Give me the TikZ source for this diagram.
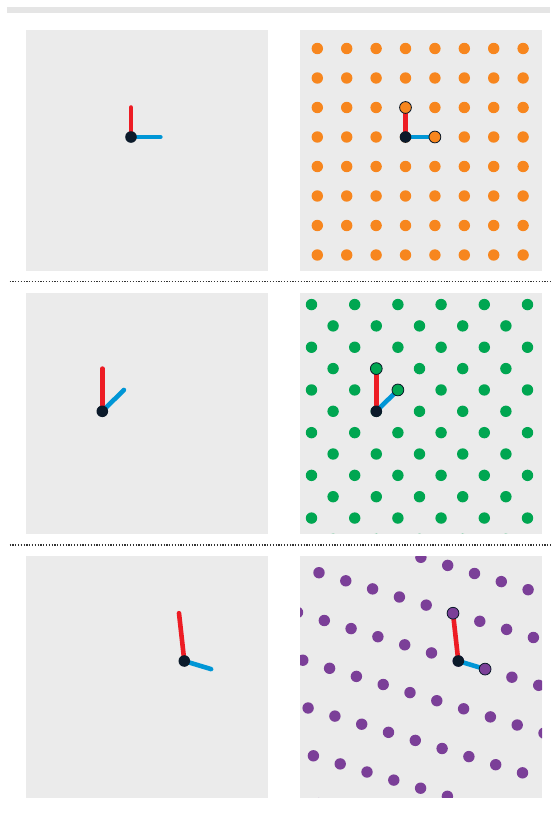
\documentclass[tikz,border=0pt]{standalone}
\definecolor{panelgray}{HTML}{EBEBEB}
\definecolor{bargray}{HTML}{E5E5E5}
\definecolor{vred}{HTML}{ED1C24}
\definecolor{vblue}{HTML}{0096D6}
\definecolor{odark}{HTML}{0B1A2A}
\definecolor{lorange}{HTML}{F7861E}
\definecolor{lgreen}{HTML}{00A651}
\definecolor{lpurple}{HTML}{7B3F98}
\definecolor{sepdark}{HTML}{333333}
\newcommand\drawlattice[7]{%
  \foreach \ii in {-7,...,7}{%
    \foreach \jj in {-12,...,12}{%
      \fill[#1] ({#2+\ii*(#4)+\jj*(#6)},{#3+\ii*(#5)+\jj*(#7)}) circle (5.7pt);
    }%
  }%
}
\begin{document}
\begin{tikzpicture}[x=1pt,y=-1pt,
  panelbox/.style={fill=panelgray},
  redvec/.style={draw=vred,line width=4.6pt,line cap=round},
  bluevec/.style={draw=vblue,line width=4.6pt,line cap=round},
  origindot/.style={circle,fill=odark,inner sep=0pt,minimum size=11.6pt},
  tipdot/.style={circle,fill=#1,draw=odark,line width=0.8pt,inner sep=0pt,minimum size=11.8pt},
  sepline/.style={draw=sepdark,line width=1.3pt,dash pattern=on 1.3pt off 1.5pt}]
\useasboundingbox (0,0) rectangle (550,815);
% top bar
\fill[bargray] (7.4,7.4) rectangle (550,12.8);
% separators
\coordinate (s1a) at (9.5,281.5); \coordinate (s1b) at (550,281.5);
\coordinate (s2a) at (9.5,545); \coordinate (s2b) at (550,545);
\draw[sepline] (s1a) -- (s1b);
\draw[sepline] (s2a) -- (s2b);
% panels
\fill[panelbox] (26,29.5) rectangle (268,271);
\fill[panelbox] (300,29.5) rectangle (542,271);
\fill[panelbox] (26,292.5) rectangle (268,533.5);
\fill[panelbox] (300,292.5) rectangle (542,533.5);
\fill[panelbox] (26,556) rectangle (268,797.5);
\fill[panelbox] (300,556) rectangle (542,797.5);
% lattices
\begin{scope}
  \clip (300,29.5) rectangle (542,271);
  \drawlattice{lorange}{405.5}{137}{0}{-29.5}{29.4}{0}
\end{scope}
\begin{scope}
  \clip (300,292.5) rectangle (542,533.5);
  \drawlattice{lgreen}{376.3}{411.3}{0}{-42.7}{21.6}{-21.35}
\end{scope}
\begin{scope}
  \clip (300,556) rectangle (542,797.5);
  \drawlattice{lpurple}{458.3}{661}{-5.3}{-47.8}{26.8}{8.1}
\end{scope}
% row 1 frames
\coordinate (o1L) at (131,137); \coordinate (r1L) at (131,107.5); \coordinate (b1L) at (160.4,137);
\draw[redvec] (o1L) -- (r1L); \draw[bluevec] (o1L) -- (b1L);
\node[origindot] (O1L) at (o1L) {};
\coordinate (o1R) at (405.5,137); \coordinate (r1R) at (405.5,107.5); \coordinate (b1R) at (434.9,137);
\draw[redvec] (o1R) -- (r1R); \draw[bluevec] (o1R) -- (b1R);
\node[tipdot=lorange] (R1R) at (r1R) {};
\node[tipdot=lorange] (B1R) at (b1R) {};
\node[origindot] (O1R) at (o1R) {};
% row 2 frames
\coordinate (o2L) at (102.3,411.3); \coordinate (r2L) at (102.3,368.6); \coordinate (b2L) at (123.9,389.95);
\draw[redvec] (o2L) -- (r2L); \draw[bluevec] (o2L) -- (b2L);
\node[origindot] (O2L) at (o2L) {};
\coordinate (o2R) at (376.3,411.3); \coordinate (r2R) at (376.3,368.6); \coordinate (b2R) at (397.9,389.95);
\draw[redvec] (o2R) -- (r2R); \draw[bluevec] (o2R) -- (b2R);
\node[tipdot=lgreen] (R2R) at (r2R) {};
\node[tipdot=lgreen] (B2R) at (b2R) {};
\node[origindot] (O2R) at (o2R) {};
% row 3 frames
\coordinate (o3L) at (184.3,661); \coordinate (r3L) at (179,613.2); \coordinate (b3L) at (211.1,669.1);
\draw[redvec] (o3L) -- (r3L); \draw[bluevec] (o3L) -- (b3L);
\node[origindot] (O3L) at (o3L) {};
\coordinate (o3R) at (458.3,661); \coordinate (r3R) at (453,613.2); \coordinate (b3R) at (485.1,669.1);
\draw[redvec] (o3R) -- (r3R); \draw[bluevec] (o3R) -- (b3R);
\node[tipdot=lpurple] (R3R) at (r3R) {};
\node[tipdot=lpurple] (B3R) at (b3R) {};
\node[origindot] (O3R) at (o3R) {};
\end{tikzpicture}
\end{document}
